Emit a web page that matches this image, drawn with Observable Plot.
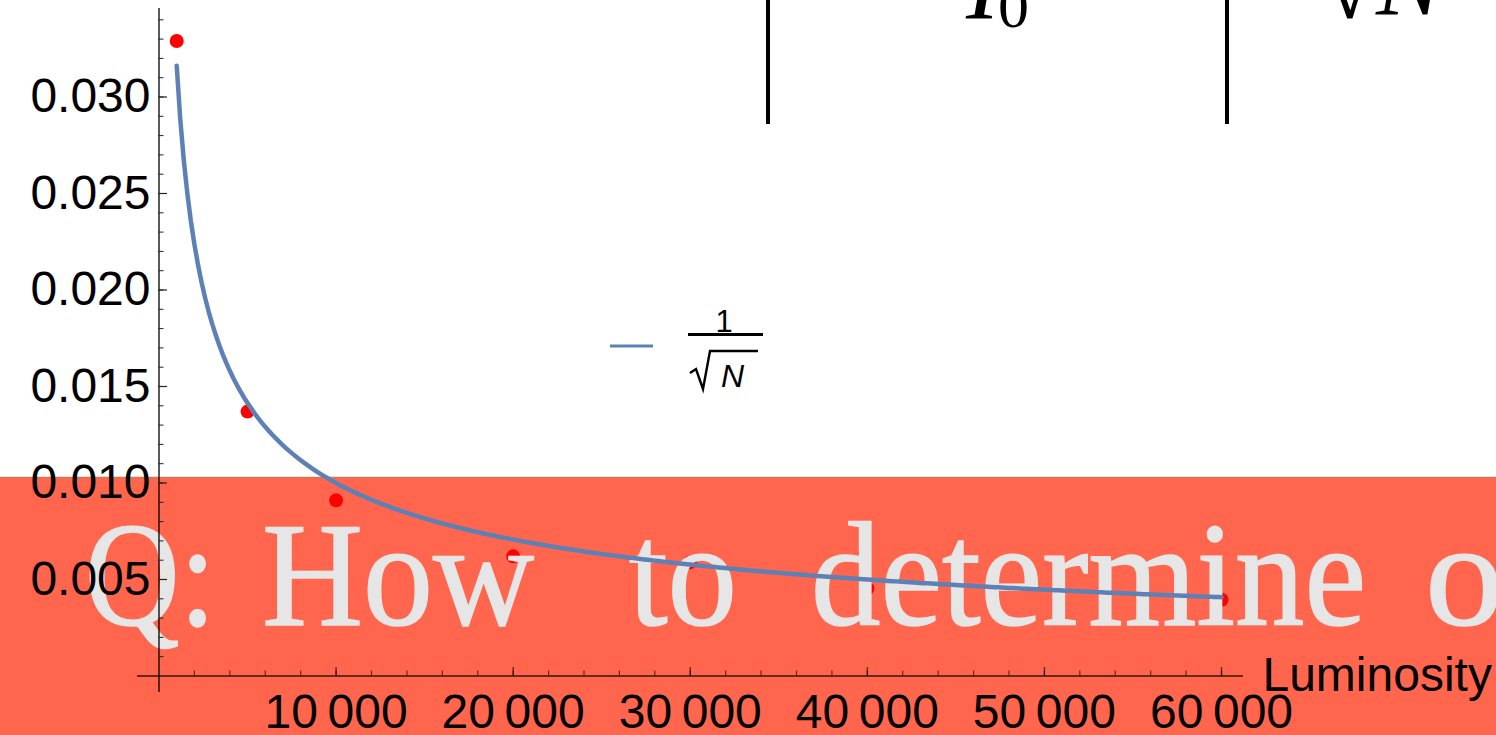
<!DOCTYPE html>
<html>
<head>
<meta charset="utf-8">
<script src="https://cdn.jsdelivr.net/npm/d3@7"></script>
<script src="https://cdn.jsdelivr.net/npm/@observablehq/plot@0.6"></script>
<style>
  html, body { margin: 0; padding: 0; background: #fff; overflow: hidden; }
  #chart { position: relative; width: 1496px; height: 735px; }
  #chart svg { display: block; }
</style>
</head>
<body>
<div id="chart"></div>
<script>
// Measured relative error at each luminosity
const luminosity = [1000, 5000, 10000, 20000, 30000, 40000, 60000];
const relError = [0.0329, 0.0137, 0.0091, 0.0062, 0.0059, 0.00453, 0.00395];

// Luminosity values where the 1/sqrt(N) reference curve is evaluated
const curveN = d3.range(1000, 60001, 200);

// Axis ticks
const xMajor = [10000, 20000, 30000, 40000, 50000, 60000];
const xMinor = d3.range(2000, 60001, 2000);
const yMajor = [0.005, 0.010, 0.015, 0.020, 0.025, 0.030];
const yMinor = d3.range(1, 35).map(i => i / 1000);

// How far the two axis lines run past the plotted ranges
const xAxisExtent = [-1214, 61240];
const yAxisExtent = [-0.000855, 0.034585];

const xLabel = "Luminosity";
const questionWords = ["Q:", "How", "to", "determine", "optimal"];

const points = luminosity.map((n, i) => ({n, e: relError[i]}));
const curve = curveN.map(n => ({n, e: 1 / Math.sqrt(n)}));

const BLUE = "#5e81b5";
const SANS = "'Liberation Sans', Arial, sans-serif";
const SERIF = "'Liberation Serif', 'Times New Roman', serif";

// Orange strip running across the lower part of the figure
function banner(index, scales, values, dims) {
  const g = d3.create("svg:g");
  g.append("rect")
    .attr("x", 0).attr("y", 477)
    .attr("width", dims.width).attr("height", dims.height - 477)
    .attr("fill", "#ff664d");
  g.append("line")
    .attr("x1", 0).attr("x2", dims.width)
    .attr("y1", 477.5).attr("y2", 477.5)
    .attr("stroke", "#c97a5c").attr("stroke-width", 1.5);
  return g.node();
}

// Large serif question heading laid over the strip
function question() {
  const layout = [
    {x: 85, w: 131},
    {x: 262, w: 272},
    {x: 629, w: 108},
    {x: 811, w: 555},
    {x: 1425, w: 480}
  ];
  const g = d3.create("svg:g")
    .attr("font-family", SERIF)
    .attr("font-size", 148)
    .attr("text-anchor", "start")
    .attr("fill", "#e6e6e6")
    .attr("stroke", "#e6e6e6")
    .attr("stroke-width", 1.6);
  questionWords.forEach((w, i) => {
    g.append("text")
      .attr("x", layout[i].x).attr("y", 625)
      .attr("textLength", layout[i].w)
      .attr("lengthAdjust", "spacingAndGlyphs")
      .text(w);
  });
  return g.node();
}

// Legend entry: line swatch and 1/sqrt(N)
function legend() {
  const g = d3.create("svg:g").attr("text-anchor", "start");
  g.append("line")
    .attr("x1", 610).attr("x2", 653).attr("y1", 346).attr("y2", 346)
    .attr("stroke", BLUE).attr("stroke-width", 3);
  g.append("text")
    .attr("x", 724).attr("y", 332)
    .attr("text-anchor", "middle")
    .attr("font-family", SANS).attr("font-size", 31)
    .text("1");
  g.append("line")
    .attr("x1", 688).attr("x2", 763).attr("y1", 334.5).attr("y2", 334.5)
    .attr("stroke", "#000").attr("stroke-width", 3);
  g.append("path")
    .attr("d", "M690,373 L696,369 L703,389 L710,351 L758,351")
    .attr("fill", "none").attr("stroke", "#000").attr("stroke-width", 2.4)
    .attr("stroke-linejoin", "miter");
  g.append("text")
    .attr("x", 721).attr("y", 387)
    .attr("font-family", SANS).attr("font-style", "italic").attr("font-size", 32)
    .text("N");
  return g.node();
}

// Formula fragments along the top edge
function formulaTop() {
  const g = d3.create("svg:g");
  [768, 1227].forEach(x => {
    g.append("line")
      .attr("x1", x).attr("x2", x).attr("y1", 0).attr("y2", 124)
      .attr("stroke", "#000").attr("stroke-width", 4);
  });
  const t = g.append("g")
    .attr("font-family", SERIF)
    .attr("text-anchor", "start")
    .attr("fill", "#000");
  t.append("text").attr("x", 966).attr("y", 18)
    .attr("font-style", "italic").attr("font-size", 100).text("I");
  t.append("text").attr("x", 998).attr("y", 27)
    .attr("font-size", 62).text("0");
  t.append("text").attr("x", 1322).attr("y", 18)
    .attr("font-size", 100).text("\u221A");
  t.append("text").attr("x", 1376).attr("y", 14)
    .attr("font-style", "italic").attr("font-size", 100).text("N");
  return g.node();
}

const thinSpace = d => d3.format(",")(d).replace(/,/g, "\u2009");

const chart = Plot.plot({
  width: 1496,
  height: 735,
  marginLeft: 158.5,
  marginRight: 275,
  marginTop: 96.5,
  marginBottom: 59.5,
  style: {fontFamily: SANS, background: "transparent"},
  x: {domain: [0, 60000], axis: null},
  y: {domain: [0, 0.03], axis: null},
  marks: [
    banner,
    Plot.dot(points, {x: "n", y: "e", r: 7, fill: "#ff0000"}),
    question,
    // y axis
    Plot.ruleX([0], {y1: yAxisExtent[0], y2: yAxisExtent[1], stroke: "#000", strokeWidth: 1.3}),
    Plot.axisY(yMinor, {anchor: "left", tickSize: -5, fill: "none", stroke: "#222", strokeWidth: 1, label: null}),
    Plot.axisY(yMajor, {anchor: "left", tickSize: -8.5, fill: "none", stroke: "#222", strokeWidth: 1.2, label: null}),
    Plot.axisY(yMajor, {anchor: "left", tickSize: 0, tickPadding: 8.5, stroke: "none", fill: "#000",
      fontSize: 48, tickFormat: d => d.toFixed(3), label: null}),
    // x axis
    Plot.ruleY([0], {x1: xAxisExtent[0], x2: xAxisExtent[1], stroke: "#000", strokeOpacity: 0.6, strokeWidth: 2}),
    Plot.axisX(xMinor, {anchor: "bottom", tickSize: -5, fill: "none", stroke: "#000", strokeOpacity: 0.6, strokeWidth: 1.2, label: null}),
    Plot.axisX(xMajor, {anchor: "bottom", tickSize: -8.5, fill: "none", stroke: "#000", strokeOpacity: 0.6, strokeWidth: 1.4, label: null}),
    Plot.axisX(xMajor, {anchor: "bottom", tickSize: 0, tickPadding: 18, stroke: "none", fill: "#000",
      fontSize: 48, tickFormat: thinSpace, label: null}),
    Plot.text([xLabel], {x: xAxisExtent[1], y: 0, text: d => d, textAnchor: "start", dx: 19,
      lineAnchor: "middle", fontSize: 48, fill: "#000"}),
    // reference curve
    Plot.line(curve, {x: "n", y: "e", stroke: BLUE, strokeWidth: 4.5}),
    legend,
    formulaTop
  ]
});

document.getElementById("chart").append(chart);
</script>
</body>
</html>
